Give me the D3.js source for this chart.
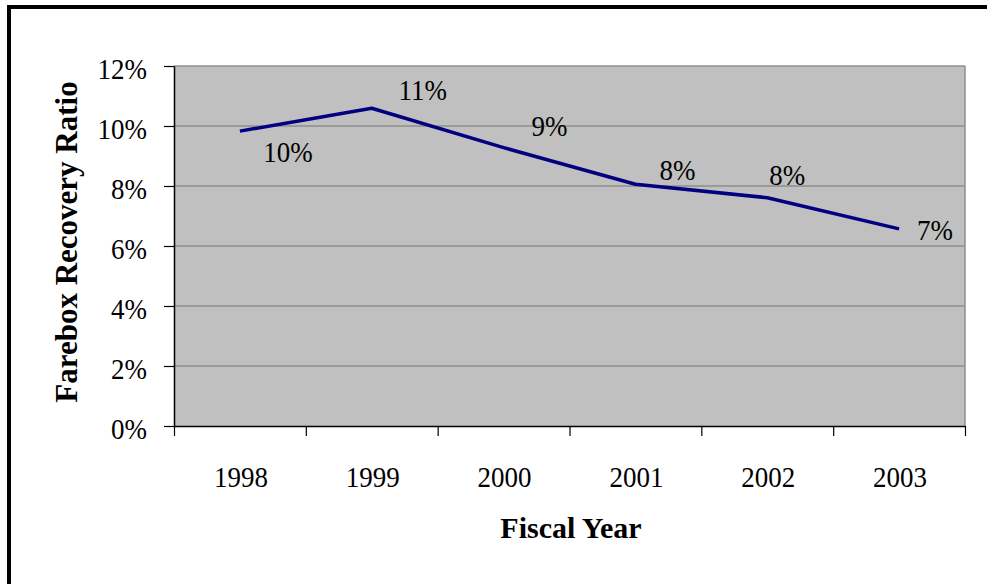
<!DOCTYPE html>
<html>
<head>
<meta charset="utf-8">
<script src="https://cdn.jsdelivr.net/npm/d3@7"></script>
<style>
  html, body { margin: 0; padding: 0; background: #fff; }
  svg { display: block; }
  svg text { font-family: "Liberation Serif", serif; fill: #000; }
</style>
</head>
<body>
<svg id="chart" width="987" height="584"></svg>
<script>
// Farebox recovery ratio by fiscal year
const years = ["1998", "1999", "2000", "2001", "2002", "2003"];
const ratios = [0.0983, 0.1059, 0.0928, 0.0806, 0.0761, 0.0657];
const yTicks = [0, 0.02, 0.04, 0.06, 0.08, 0.10, 0.12];

// hand-placed offsets of each value label from its point (px)
const labelOffsets = [[48, 31], [51, -8], [46, -12], [42, -4], [20, -13], [36, 11]];

const svg = d3.select("#chart");
const plot = { left: 174, right: 965, top: 66, bottom: 426 };
const stretch = 1.12;   // the regular text is set slightly tall

const x = d3.scaleBand().domain(years).range([plot.left, plot.right]).padding(0);
const xEdge = d3.scaleLinear().domain([0, years.length]).range([plot.left, plot.right]);
const y = d3.scaleLinear().domain([0, 0.12]).range([plot.bottom, plot.top]);
const pct = d3.format(".0%");
const cx = d => x(d) + x.bandwidth() / 2;

// place a text element at (px, py) with the vertical stretch applied
function placeText(sel, px, py) {
  sel.attr("x", 0).attr("y", 0).attr("dy", null)
    .attr("transform", (d, i) => `translate(${px(d, i)},${py(d, i)}) scale(1,${stretch})`);
}

// outer frame (top and left edges)
svg.append("path")
  .attr("d", `M9,584 V7 H987`)
  .attr("fill", "none").attr("stroke", "#000").attr("stroke-width", 4);

// plot background
svg.append("rect")
  .attr("x", plot.left).attr("y", plot.top)
  .attr("width", plot.right - plot.left).attr("height", plot.bottom - plot.top)
  .attr("fill", "#c0c0c0");

// gridlines
svg.append("g").selectAll("line")
  .data(yTicks.filter(t => t > 0))
  .join("line")
  .attr("x1", plot.left).attr("x2", plot.right)
  .attr("y1", d => y(d)).attr("y2", d => y(d))
  .attr("stroke", "#8e8e8e").attr("stroke-width", 1.5);

// right edge of plot area
svg.append("line")
  .attr("x1", plot.right).attr("x2", plot.right)
  .attr("y1", plot.top).attr("y2", plot.bottom)
  .attr("stroke", "#8e8e8e").attr("stroke-width", 1.5);

// y axis
const yAxis = svg.append("g")
  .attr("transform", `translate(${plot.left},0)`)
  .call(d3.axisLeft(y).tickValues(yTicks).tickFormat(pct).tickSize(10).tickSizeOuter(0));
yAxis.attr("font-family", null).attr("font-size", null);
yAxis.select(".domain").attr("stroke", "#000").attr("stroke-width", 1.5);
yAxis.selectAll(".tick line").attr("stroke", "#000").attr("stroke-width", 1.2);
yAxis.selectAll(".tick text")
  .attr("font-size", 27)
  .call(placeText, () => -27, () => 12);

// x axis: tick marks between categories
const xAxis = svg.append("g")
  .attr("transform", `translate(0,${plot.bottom})`)
  .call(d3.axisBottom(xEdge).tickValues(d3.range(years.length + 1)).tickFormat("").tickSize(10).tickSizeOuter(0));
xAxis.select(".domain").attr("stroke", "#000").attr("stroke-width", 1.5);
xAxis.selectAll(".tick line").attr("stroke", "#000").attr("stroke-width", 1.2);

// x axis: category labels
const xLabels = svg.append("g")
  .attr("transform", `translate(0,${plot.bottom})`)
  .call(d3.axisBottom(x).tickSize(0));
xLabels.attr("font-family", null).attr("font-size", null);
xLabels.select(".domain").remove();
xLabels.selectAll(".tick text")
  .attr("font-size", 27)
  .call(placeText, () => 1, () => 61);

// series line
const line = d3.line()
  .x((d, i) => cx(years[i]))
  .y(d => y(d));
svg.append("path")
  .datum(ratios)
  .attr("d", line)
  .attr("fill", "none")
  .attr("stroke", "#000080")
  .attr("stroke-width", 3.5)
  .attr("stroke-linejoin", "round");

// value labels
svg.append("g").selectAll("text")
  .data(ratios)
  .join("text")
  .attr("text-anchor", "middle")
  .attr("font-size", 27)
  .text(d => pct(d))
  .call(placeText,
        (d, i) => cx(years[i]) + labelOffsets[i][0],
        (d, i) => y(d) + labelOffsets[i][1]);

// axis titles
svg.append("text")
  .attr("x", 571).attr("y", 538)
  .attr("text-anchor", "middle")
  .attr("font-size", 30).attr("font-weight", "bold")
  .text("Fiscal Year");

svg.append("text")
  .attr("transform", "translate(77,242) rotate(-90)")
  .attr("text-anchor", "middle")
  .attr("font-size", 31).attr("font-weight", "bold")
  .text("Farebox Recovery Ratio");
</script>
</body>
</html>
